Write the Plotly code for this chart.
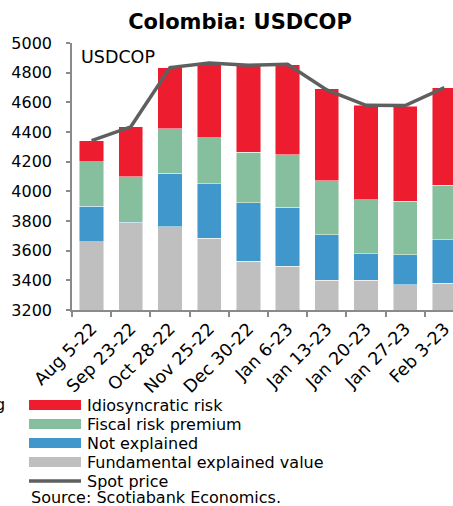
import plotly.graph_objects as go

dates = ["Aug 5-22", "Sep 23-22", "Oct 28-22", "Nov 25-22", "Dec 30-22",
         "Jan 6-23", "Jan 13-23", "Jan 20-23", "Jan 27-23", "Feb 3-23"]
fundamental = [3660, 3780, 3762, 3685, 3530, 3494, 3402, 3400, 3369, 3380]
not_explained = [241, 11, 361, 367, 394, 400, 306, 180, 202, 292]
fiscal = [297, 308, 300, 310, 341, 351, 362, 362, 362, 368]
idiosyncratic = [142, 337, 409, 498, 584, 609, 620, 638, 642, 659]
spot = [4342, 4435, 4834, 4865, 4850, 4856, 4684, 4580, 4578, 4699]
y_ticks = [3200, 3400, 3600, 3800, 4000, 4200, 4400, 4600, 4800, 5000]

C_RED = "#ED1C2E"
C_GREEN = "#86BF9D"
C_BLUE = "#3F97CB"
C_GRAY = "#BFBFBF"
C_LINE = "#5F5F5F"
FONT = "DejaVu Sans"

W, H = 453, 506
L, R, T, B = 72, 0, 43, 196
PW, PH = W - L - R, H - T - B

def px(x):
    return (x - L) / PW

def py(y):
    return (H - B - y) / PH

fig = go.Figure()
edge = dict(width=0.8, color="rgba(255,255,255,0.6)")
for name, vals, col in [("Fundamental explained value", fundamental, C_GRAY),
                        ("Not explained", not_explained, C_BLUE),
                        ("Fiscal risk premium", fiscal, C_GREEN),
                        ("Idiosyncratic risk", idiosyncratic, C_RED)]:
    fig.add_trace(go.Bar(x=dates, y=vals, name=name, marker=dict(color=col, line=edge),
                         showlegend=False))
fig.add_trace(go.Scatter(x=dates, y=spot, mode="lines", name="Spot price",
                         line=dict(color=C_LINE, width=3.5), showlegend=False))

fig.update_layout(
    width=W, height=H, margin=dict(l=L, r=R, t=T, b=B, autoexpand=False),
    barmode="stack", bargap=0.38,
    plot_bgcolor="white", paper_bgcolor="white",
    font=dict(family=FONT, size=15, color="#000000"),
    title=dict(text="<b>Colombia: USDCOP</b>", x=px(240), xref="paper", xanchor="center",
               y=1 - 22 / H, yanchor="middle", font=dict(family=FONT, size=21, color="#000")),
)
fig.update_xaxes(range=[-0.5, 9.22], showline=True, linecolor="#8a8a8a", linewidth=1.5,
                 ticks="outside", ticklen=5, tickcolor="#8a8a8a", tickwidth=1.5,
                 tickson="boundaries", tickangle=-45, showgrid=False, automargin=False,
                 tickfont=dict(family=FONT, size=17.5, color="#000"))
fig.update_yaxes(range=[3200, 5000], tickvals=y_ticks, showline=True, linecolor="#8a8a8a",
                 linewidth=1.5, ticks="outside", ticklen=4, tickcolor="#8a8a8a", tickwidth=1.5,
                 ticklabelstandoff=11,
                 showgrid=False, zeroline=False, automargin=False,
                 tickfont=dict(family=FONT, size=16, color="#000"))

# Inner label
fig.add_annotation(text="USDCOP", xref="paper", yref="paper", x=px(79), y=py(57),
                   xanchor="left", yanchor="middle", showarrow=False,
                   font=dict(family=FONT, size=17.5, color="#000"))

# Custom legend
legend_items = [("Idiosyncratic risk", C_RED, 405), ("Fiscal risk premium", C_GREEN, 424),
                ("Not explained", C_BLUE, 443), ("Fundamental explained value", C_GRAY, 462)]
for label, col, yc in legend_items:
    fig.add_shape(type="rect", xref="paper", yref="paper", x0=px(29), x1=px(81),
                  y0=py(yc - 5), y1=py(yc + 5), fillcolor=col, line=dict(width=0))
    fig.add_annotation(text=label, xref="paper", yref="paper", x=px(85), y=py(yc),
                       xanchor="left", yanchor="middle", showarrow=False,
                       font=dict(family=FONT, size=16, color="#000"))
fig.add_shape(type="line", xref="paper", yref="paper", x0=px(29), x1=px(81),
              y0=py(481), y1=py(481), line=dict(color=C_LINE, width=3.5))
fig.add_annotation(text="Spot price", xref="paper", yref="paper", x=px(85), y=py(481),
                   xanchor="left", yanchor="middle", showarrow=False,
                   font=dict(family=FONT, size=16, color="#000"))
fig.add_annotation(text="Source: Scotiabank Economics.", xref="paper", yref="paper",
                   x=px(29), y=py(497), xanchor="left", yanchor="middle", showarrow=False,
                   font=dict(family=FONT, size=16, color="#000"))
fig.add_annotation(text="g", xref="paper", yref="paper", x=px(6.5), y=py(404),
                   xanchor="right", yanchor="middle", showarrow=False,
                   font=dict(family=FONT, size=16, color="#000"))

fig.write_html("out.html", config={"displayModeBar": False},
               post_script="document.body.style.margin='0px';document.body.style.overflow='hidden';")
